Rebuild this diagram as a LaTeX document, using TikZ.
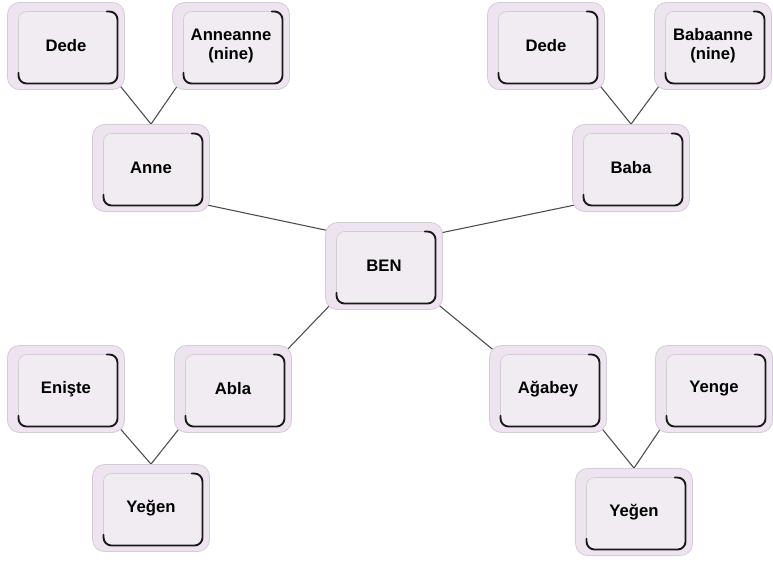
\documentclass[tikz,border=0pt]{standalone}
\usepackage{fontspec}
\setmainfont{Liberation Sans}
\usetikzlibrary{backgrounds}
\definecolor{keyfill}{RGB}{238,228,240}
\definecolor{keyface}{RGB}{240,236,242}
\definecolor{keyrim}{RGB}{210,204,214}
\definecolor{keyline}{RGB}{75,75,75}
\tikzset{
    keybox/.style={draw=keyrim, line width=0.6pt, fill=keyfill, rounded corners=9pt,
        minimum width=87.75pt, minimum height=65.25pt, inner sep=0pt,
        align=center, font=\fontsize{12.5}{14}\selectfont\bfseries,
        path picture={
            \coordinate (ka) at ([shift={(8.25pt,4.5pt)}]path picture bounding box.south west);
            \coordinate (kb) at ([shift={(-5.25pt,-6.75pt)}]path picture bounding box.north east);
            \draw[keyrim, fill=keyface, line width=0.5pt, rounded corners=6pt] (ka) rectangle (kb);
            \draw[black!90, line width=1.4pt, rounded corners=6pt, line cap=round]
                ([xshift=-8pt]kb) -- (kb) -- (kb |- ka) -- (ka) -- ([yshift=8pt]ka);
        }},
    link/.style={draw=keyline, line width=0.8pt}
}
\begin{document}
\begin{tikzpicture}[x=0.75pt, y=-0.75pt]
        \useasboundingbox (0,0) rectangle (773,564);
        % Mother's side
        \node[keybox] (dedeA) at (66,46) {Dede};
        \node[keybox] (anneanne) at (231,46) {Anneanne\\(nine)};
        \node[keybox] (anne) at (151,168) {Anne};
        % Father's side
        \node[keybox] (dedeB) at (546,46) {Dede};
        \node[keybox] (babaanne) at (713,46) {Babaanne\\(nine)};
        \node[keybox] (baba) at (631,168) {Baba};
        % Me
        \node[keybox] (ben) at (384,266) {BEN};
        % Sister
        \node[keybox] (eniste) at (66,389) {Enişte};
        \node[keybox] (abla) at (233,389) {Abla};
        \node[keybox] (yegenA) at (151,508) {Yeğen};
        % Brother
        \node[keybox] (agabey) at (548,389) {Ağabey};
        \node[keybox] (yenge) at (714,389) {Yenge};
        \node[keybox] (yegenB) at (634,512) {Yeğen};
        % Links
        \begin{scope}[on background layer]
            \draw[link] ([shift={(-8,-8)}]dedeA.south east) -- (anne.north);
            \draw[link] ([shift={(8,-8)}]anneanne.south west) -- (anne.north);
            \draw[link] ([shift={(-8,-8)}]dedeB.south east) -- (baba.north);
            \draw[link] ([shift={(8,-8)}]babaanne.south west) -- (baba.north);
            \draw[link] ([shift={(-8,-8)}]eniste.south east) -- (yegenA.north);
            \draw[link] ([shift={(8,-8)}]abla.south west) -- (yegenA.north);
            \draw[link] ([shift={(-8,-8)}]agabey.south east) -- (yegenB.north);
            \draw[link] ([shift={(8,-8)}]yenge.south west) -- (yegenB.north);
            \draw[link] ([shift={(-8,-8)}]anne.south east) -- ([shift={(10,10)}]ben.north west);
            \draw[link] ([shift={(-8,12)}]ben.north east) -- ([shift={(8,-8)}]baba.south west);
            \draw[link] ([shift={(8,-8)}]ben.south west) -- ([shift={(-8,8)}]abla.north east);
            \draw[link] ([shift={(-8,-8)}]ben.south east) -- ([shift={(8,8)}]agabey.north west);
        \end{scope}
    \end{tikzpicture}
\end{document}
